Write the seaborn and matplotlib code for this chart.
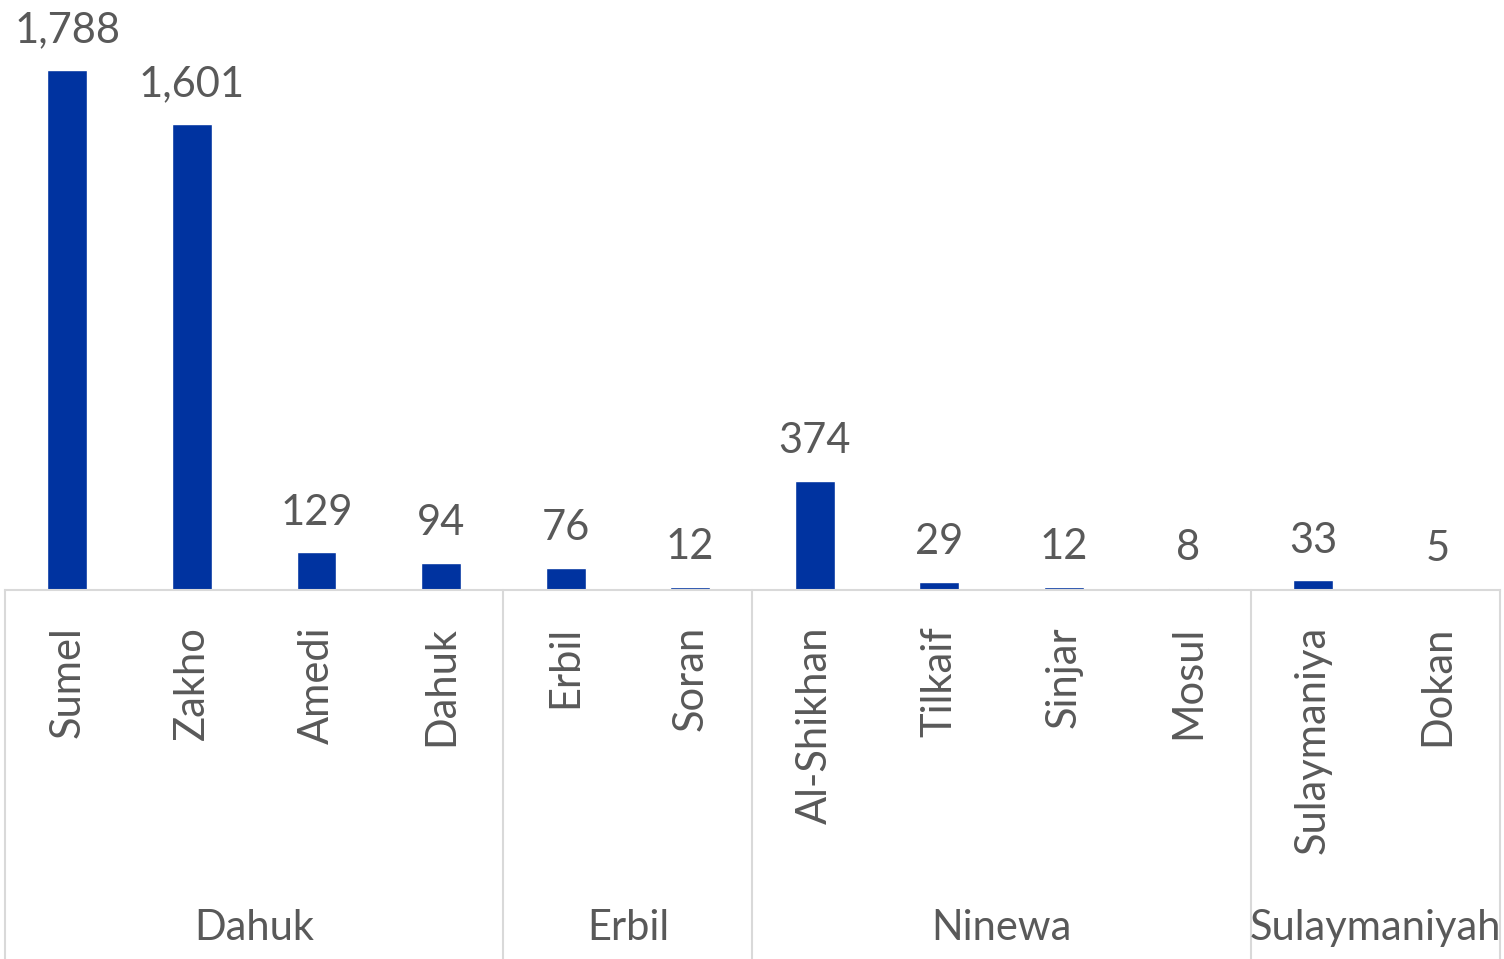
import matplotlib
matplotlib.use("Agg")
import matplotlib.pyplot as plt
import matplotlib.transforms as mtransforms
import pandas as pd
import seaborn as sns

districts = ["Sumel", "Zakho", "Amedi", "Dahuk", "Erbil", "Soran", "Al-Shikhan",
             "Tilkaif", "Sinjar", "Mosul", "Sulaymaniya", "Dokan"]
values = [1788, 1601, 129, 94, 76, 12, 374, 29, 12, 8, 33, 5]
governorates = ["Dahuk", "Erbil", "Ninewa", "Sulaymaniyah"]
group_sizes = [4, 2, 4, 2]

BAR = "#0033a0"
TXT = "#595959"
LINE = "#d9d9d9"

sns.set_theme(style="white")
plt.rcParams["font.family"] = ["Lato", "DejaVu Sans"]

df = pd.DataFrame({"district": districts, "value": values})

fig = plt.figure(figsize=(15.04, 9.59), dpi=100)
ax = fig.add_axes([5 / 1504, 369 / 959, 1495 / 1504, 590 / 959])
sns.barplot(data=df, x="district", y="value", color=BAR, width=0.32,
            saturation=1, ax=ax)
ax.set_ylim(0, 2029)
ax.set_xlim(-0.5, len(districts) - 0.5)

for c in ax.containers:
    ax.bar_label(c, labels=[f"{v:,}" for v in values], padding=15,
                 fontsize=30, color=TXT)

for s in ["top", "right", "left"]:
    ax.spines[s].set_visible(False)
ax.spines["bottom"].set_color(LINE)
ax.spines["bottom"].set_linewidth(1.5)
ax.set_yticks([])
ax.set_xlabel("")
ax.set_ylabel("")
ax.tick_params(axis="x", length=0, pad=26)
ax.set_xticks(range(len(districts)))
ax.set_xticklabels(districts, rotation=90, fontsize=30, color=TXT,
                   va="top", ha="center")

trans = mtransforms.blended_transform_factory(ax.transData, ax.transAxes)
edges = [-0.5]
for n in group_sizes:
    edges.append(edges[-1] + n)
for e in edges:
    ax.plot([e, e], [0, -369 / 590], transform=trans, color=LINE, lw=1.5,
            clip_on=False)
start = -0.5
for g, n in zip(governorates, group_sizes):
    ax.text(start + n / 2, -0.573, g, transform=trans, ha="center",
            va="center", fontsize=30, color=TXT)
    start += n

fig.savefig("out.png", dpi=100)
